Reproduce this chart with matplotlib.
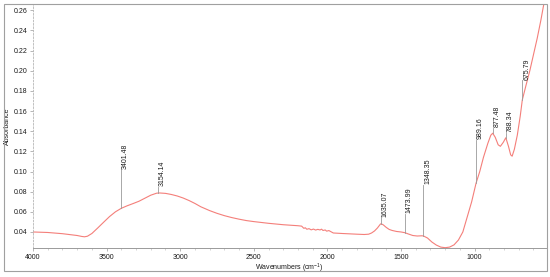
import numpy as np
import matplotlib
matplotlib.use("Agg")
import matplotlib.pyplot as plt
from matplotlib.patches import Rectangle
from matplotlib.ticker import MultipleLocator

plt.rcParams['font.family'] = ['Liberation Sans', 'DejaVu Sans']
plt.rcParams['mathtext.fontset'] = 'custom'
plt.rcParams['mathtext.rm'] = 'Liberation Sans'

# FTIR spectrum (wavenumber, absorbance)
wavenumber = [4000, 3900, 3800, 3700, 3670, 3650, 3630, 3600, 3560, 3520, 3480,
              3440, 3400, 3360, 3320, 3280, 3240, 3200, 3160, 3140, 3100,
              3060, 3020, 2980, 2940, 2900, 2860, 2800, 2750, 2700, 2650,
              2600, 2550, 2500, 2400, 2300, 2200, 2175, 2160, 2150, 2140,
              2125, 2110, 2095, 2080, 2065, 2050, 2040, 2030, 2015, 2005,
              1990, 1975, 1960, 1900, 1800, 1750, 1720, 1700, 1680, 1660,
              1640, 1635, 1620, 1600, 1580, 1560, 1530, 1500, 1474, 1450,
              1420, 1390, 1360, 1348, 1320, 1290, 1260, 1230, 1200, 1170,
              1140, 1110, 1080, 1050, 1020, 990, 965, 940, 910, 890,
              877, 860, 840, 825, 805, 788, 770, 755, 745, 730,
              710, 690, 676, 650, 625, 600, 575, 550, 530, 515]
absorbance = [0.0400, 0.0395, 0.0383, 0.0365, 0.0356, 0.0352, 0.0358, 0.0385, 0.0440, 0.0497, 0.0553,
              0.0600, 0.0635, 0.0660, 0.0682, 0.0705, 0.0735, 0.0765, 0.0785, 0.0787, 0.0783,
              0.0772, 0.0757, 0.0737, 0.0712, 0.0683, 0.0650, 0.0612, 0.0585, 0.0562, 0.0543,
              0.0527, 0.0513, 0.0503, 0.0486, 0.0472, 0.0462, 0.0458, 0.0436, 0.0442, 0.0427,
              0.0433, 0.0421, 0.0429, 0.0419, 0.0426, 0.0420, 0.0428, 0.0415, 0.0420, 0.0408,
              0.0414, 0.0402, 0.0390, 0.0385, 0.0378, 0.0375, 0.0378, 0.0390, 0.0410, 0.0440,
              0.0478, 0.0482, 0.0470, 0.0445, 0.0425, 0.0415, 0.0405, 0.0400, 0.0393, 0.0380,
              0.0365, 0.0360, 0.0362, 0.0361, 0.0340, 0.0300, 0.0270, 0.0250, 0.0244, 0.0250,
              0.0272, 0.0320, 0.0400, 0.0550, 0.0700, 0.0885, 0.1000, 0.1140, 0.1280, 0.1360,
              0.1380, 0.1340, 0.1265, 0.1250, 0.1290, 0.1335, 0.1250, 0.1165, 0.1152, 0.1220,
              0.1360, 0.1550, 0.1710, 0.1860, 0.2000, 0.2160, 0.2320, 0.2500, 0.2660, 0.2780]

# peak picks: position, label text, top of the marker line
peak_pos = [3401.48, 3154.14, 1635.07, 1473.99, 1348.35, 989.16, 877.48, 788.34, 675.79]
peak_labels = ["3401.48", "3154.14", "1635.07", "1473.99", "1348.35",
               "989.16", "877.48", "788.34", "675.79"]
peak_tops = [0.1022, 0.0845, 0.0545, 0.0580, 0.0866, 0.1313, 0.1430, 0.1385, 0.1905]

xticks = [4000, 3500, 3000, 2500, 2000, 1500, 1000]
yticks = [0.04, 0.06, 0.08, 0.10, 0.12, 0.14, 0.16, 0.18, 0.20, 0.22, 0.24, 0.26]

fig = plt.figure(figsize=(5.5, 2.77), dpi=100)
ax = fig.add_axes([33/550, 1-248/277, 513/550, 244/277])

# outer grey frame around the whole picture
fig.patches.append(Rectangle((4/550, 1-271/277), 543/550, 267/277,
                             transform=fig.transFigure, fill=False,
                             edgecolor="#a0a0a0", linewidth=0.8))

ax.plot(wavenumber, absorbance, color="#f47f7a", linewidth=0.8, clip_on=True)

wn_asc = np.array(wavenumber)[::-1]
ab_asc = np.array(absorbance)[::-1]
for pos, lab, top in zip(peak_pos, peak_labels, peak_tops):
    base = np.interp(pos, wn_asc, ab_asc)
    ax.plot([pos, pos], [base, top], color="#9a9a9a", linewidth=0.6)
    ax.annotate(lab, (pos, top), xytext=(0.6, 0.5), textcoords="offset points",
                rotation=90, ha="left", va="bottom", fontsize=5, color="#1a1a1a")

ax.set_xlim(4000, 515)
ax.set_ylim(0.0241, 0.2662)
ax.set_xticks(xticks)
ax.set_xticklabels([str(t) for t in xticks])
ax.xaxis.set_minor_locator(MultipleLocator(100))
ax.set_yticks(yticks)
ax.set_yticklabels([f"{t:.2f}" for t in yticks])

ax.tick_params(axis="both", which="major", labelsize=5, length=2.5, width=0.5,
               color="#9a9a9a", pad=1.5, labelcolor="#1a1a1a")
ax.tick_params(axis="x", which="minor", length=1.5, width=0.4, color="#b0b0b0")

for s in ["top", "right"]:
    ax.spines[s].set_visible(False)
ax.spines["bottom"].set_color("#9a9a9a")
ax.spines["bottom"].set_linewidth(0.7)
ax.spines["left"].set_color("#b5b5b5")
ax.spines["left"].set_linewidth(0.6)
ax.spines["left"].set_linestyle((0, (2, 2)))

ax.set_xlabel("Wavenumbers (cm$^{-1}$)", fontsize=5, labelpad=1, color="#1a1a1a")
ax.set_ylabel("Absorbance", fontsize=5, labelpad=2, color="#1a1a1a")

plt.savefig("out.png", dpi=100)
plt.close()
